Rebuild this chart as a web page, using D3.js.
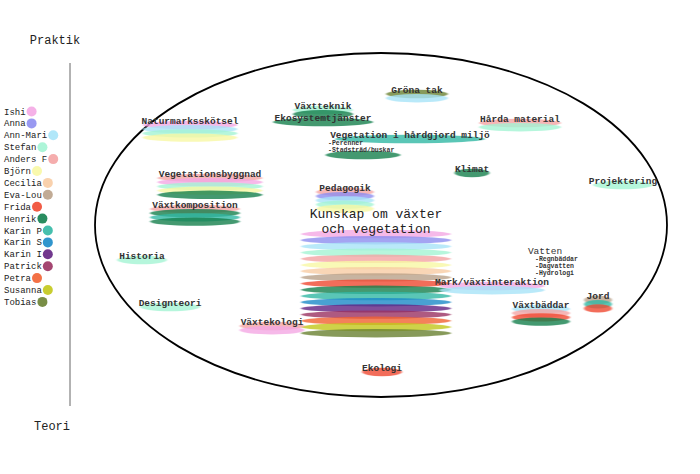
<!DOCTYPE html>
<html><head><meta charset="utf-8">
<script src="https://cdn.jsdelivr.net/npm/d3@7"></script>
<style>body{margin:0;background:#fff}svg{display:block}</style>
</head><body><div id="c"></div>
<script>
const people = ["Ishi","Anna","Ann-Mari","Stefan","Anders F","Björn","Cecilia","Eva-Lou","Frida","Henrik","Karin P","Karin S","Karin I","Patrick","Petra","Susanna","Tobias"];
const colors = ["#f4a8e4","#8e8ef0","#a8e4f8","#a4f4d4","#f4a4a4","#f8f8a4","#f8cca4","#baa28a","#f04a32","#12804e","#32b8a4","#1a8ac8","#622282","#9a3262","#f26232","#c2c81a","#6a8232"];
// topic: label, map x, map y (label position), stack width, contributors
const topicNames = ["Gröna tak","Växtteknik","Ekosystemtjänster","Naturmarksskötsel","Hårda material","Vegetation i hårdgjord miljö","Klimat","Projektering","Vegetationsbyggnad","Växtkomposition","Pedagogik","Historia","Designteori","Växtekologi","Ekologi","Mark/växtinteraktion","Växtbäddar","Jord","Vatten"];
const topicX = [417,323,323,190,520,410,472,623,210,195,345,142,170,272,382,492,541,598,545];
const topicY = [93,109,121,124,122,138,172,184,177,208,191,259,306,325,371,285,308,299,254];
const topicW = [62,60,100,95,82,150,35,60,105,90,58,50,60,65,40,105,58,28,0];
const topicMembers = [
 ["Tobias","Ann-Mari"],["Stefan","Henrik"],["Henrik"],["Ishi","Ann-Mari","Stefan","Björn"],
 ["Anders F","Stefan"],["Karin P"],["Henrik"],["Stefan"],["Anders F","Ishi","Stefan","Björn","Henrik"],
 ["Anders F","Henrik","Karin P","Henrik"],["Anders F","Anna","Ann-Mari","Stefan","Björn"],["Stefan"],["Stefan"],
 ["Anders F","Ishi"],["Frida"],["Ishi","Ann-Mari"],["Ann-Mari","Anders F","Frida","Henrik"],["Eva-Lou","Karin P","Frida"],[]];
const subNames = ["-Perenner","-Stadsträd/buskar","-Regnbäddar","-Dagvatten","-Hydrologi"];
const subX = [328,328,535,535,535];
const subY = [145,152,261,268,275];
const coreLines = ["Kunskap om växter","och vegetation"];
const coreX = 376, coreY = 218, coreW = 150;
const coreMembers = people.slice();
const axisLabels = ["Praktik","Teori"];

const W=700,H=474;
const x=d3.scaleLinear().domain([0,700]).range([0,W]);
const y=d3.scaleLinear().domain([0,474]).range([0,H]);
const col=d3.scaleOrdinal().domain(people).range(colors);
const svg=d3.select("#c").append("svg").attr("width",W).attr("height",H);
const f=svg.append("defs").append("filter").attr("id","b").attr("x","-20%").attr("y","-100%").attr("width","140%").attr("height","300%");
f.append("feGaussianBlur").attr("stdDeviation","1.2 0.6");
const font="'Liberation Mono','DejaVu Sans Mono',monospace";

svg.append("line").attr("x1",70).attr("x2",70).attr("y1",63).attr("y2",406).attr("stroke","#666").attr("stroke-width",1);
svg.append("text").attr("x",55).attr("y",44).attr("text-anchor","middle").attr("font-family",font).attr("font-size",12).attr("fill","#222").text(axisLabels[0]);
svg.append("text").attr("x",52).attr("y",430).attr("text-anchor","middle").attr("font-family",font).attr("font-size",12).attr("fill","#222").text(axisLabels[1]);

const lg=svg.append("g");
people.forEach((p,i)=>{
  const t=lg.append("text").attr("x",4).attr("y",y(114.5+i*11.9)).attr("font-family",font).attr("font-size",9).attr("fill","#222").text(p);
  const w=t.node().getComputedTextLength();
  lg.append("circle").attr("cx",4+w+6).attr("cy",y(111.5+i*11.9)).attr("r",5).attr("fill",col(p)).attr("opacity",0.9);
});

svg.append("ellipse").attr("cx",x(381)).attr("cy",y(225)).attr("rx",286).attr("ry",172).attr("fill","none").attr("stroke","#000").attr("stroke-width",1.8);

const g=svg.append("g");
function stack(cx,y0,w,mem,step){
  mem.forEach((p,i)=>{
    g.append("ellipse").attr("cx",x(cx)).attr("cy",y(y0+i*step)).attr("rx",w/2).attr("ry",4.2)
     .attr("fill",col(p)).attr("opacity",0.8).attr("filter","url(#b)");
  });
}
stack(coreX,coreY+16,coreW,coreMembers,6.2);
topicNames.forEach((n,i)=>{
  if(n==="Vegetation i hårdgjord miljö"){ stack(363,155,75,["Henrik"],4); }
  if(topicW[i]>0) stack(topicX[i],topicY[i]+1,topicW[i],topicMembers[i],4.2);
});
const tg=svg.append("g");
topicNames.forEach((n,i)=>{
  tg.append("text").attr("x",x(topicX[i])).attr("y",y(topicY[i])).attr("text-anchor","middle")
   .attr("font-family",font).attr("font-size",9.5).attr("font-weight",n==="Vatten"?"normal":"bold").attr("fill","#333").text(n);
});
subNames.forEach((s,i)=>{
  tg.append("text").attr("x",x(subX[i])).attr("y",y(subY[i])).attr("font-family",font).attr("font-size",6.5).attr("font-weight","bold").attr("fill","#333").text(s);
});
coreLines.forEach((l,i)=>{
  tg.append("text").attr("x",x(coreX)).attr("y",y(coreY+i*15)).attr("text-anchor","middle").attr("font-family",font).attr("font-size",13).attr("fill","#222").text(l);
});
</script></body></html>
